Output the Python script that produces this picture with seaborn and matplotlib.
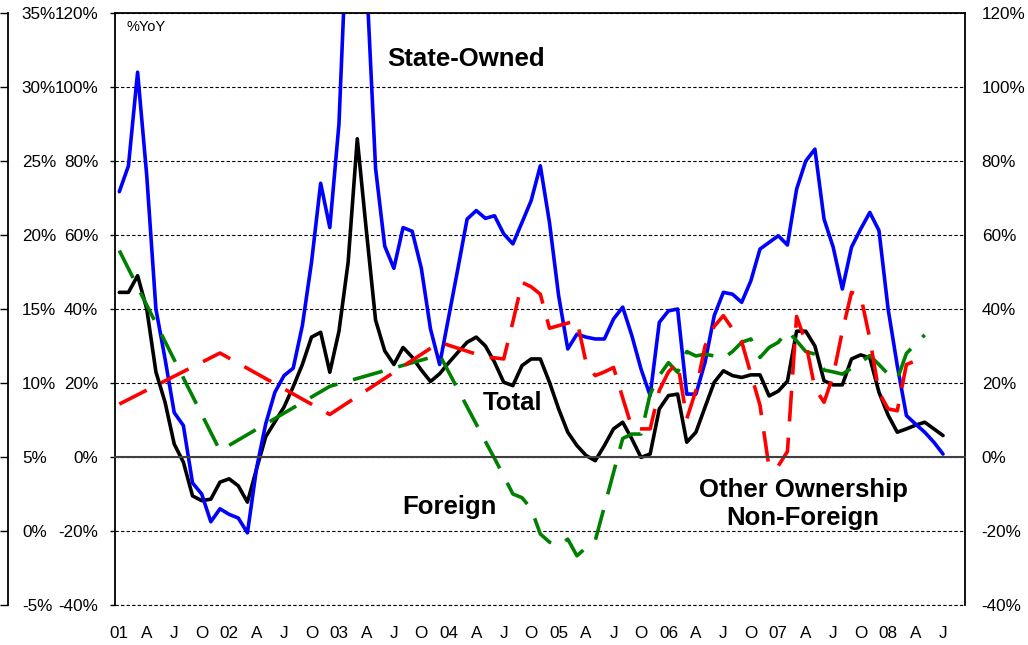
import numpy as np
import pandas as pd
import seaborn as sns
import matplotlib.pyplot as plt
from matplotlib.ticker import FuncFormatter

sns.set_style("white")
plt.rcParams["font.family"] = ["Liberation Sans", "DejaVu Sans"]
plt.rcParams["text.color"] = "black"
plt.rcParams["xtick.color"] = "black"
plt.rcParams["ytick.color"] = "black"

# monthly, Jan 2001 .. Jul 2008, % YoY (None = no observation, line is joined)
state_owned = [71.7, 78.7, 104, 76, 40, 26.5, 12, 8.5, -7, -10,
               -17.5, -14, -15.5, -16.5, -20.5, -3, 9, 17.5, 22, 24,
               35.5, 52.6, 74, 62, 90, 150, 150, 130, 78, 57,
               51, 62, 61, 51, 34.6, 25, 38, 51, 64.3, 66.6,
               64.5, 65.2, 60.3, 57.6, 63.4, 69.3, 78.7, 63.4, 43.6, 29.2,
               33.2, 32.4, 31.9, 31.9, 37.3, 40.5, 32.8, 23.8, 16.6, 36.4,
               39.5, 40, 17, 17, 25.6, 38.2, 44.5, 44, 41.8, 47.6,
               56.2, 58, 59.8, 57.3, 72.4, 80, 83.2, 64.3, 56.7, 45.4,
               56.7, 61.6, 66.1, 61.2, 40, 24.7, 11.2, 8.9, 6.7, 4,
               0.8]
total = [44.5, 44.5, 49, 40, 23, 14.8, 3.5, -1.4, -10.5, -11.8,
         -11.4, -6.8, -5.9, -7.8, -12.2, -3.2, 5.5, 9.5, 13.5, 19,
         25, 32.4, 33.7, 22.9, 34, 52.6, 86, 61, 37, 28.7,
         25, 29.6, 27, 23.5, 20.4, 22.5, 25.5, 28.3, 31, 32.4,
         30, 25.6, 20.2, 19.3, 24.7, 26.5, 26.5, 20.2, 13, 6.7,
         3.1, 0.4, -1, 3.1, 7.6, 9.4, 4.9, -0.1, 0.8, 13,
         16.6, 17, 4, 6.7, 13.5, 20.2, 23.3, 22, 21.5, 22.2,
         22.2, 16.5, 17.8, 20.5, 34, 34, 30, 20.6, 19.5, 19.5,
         26.5, 27.6, 26.8, 17.5, 11.3, 6.7, 7.6, 8.6, 9.4, 7.6,
         5.8]
foreign = [55.8, None, None, None, None, None, None, None, None, None,
           None, 1.7, None, None, None, None, None, None, None, None,
           None, None, None, 19.1, None, None, None, None, None, None,
           None, None, None, None, None, 27.6, None, None, None, None,
           4.2, -0.4, -5.1, -10, -11, -14, -20.8, -23, -24, -22.2,
           -26.7, -24.5, -22.6, -13.4, -4.2, 5, 6.2, 6.2, 17, 22,
           25.5, 22.9, 28.5, 27.3, 27.8, 27.3, 26.7, 28.5, 31, 31.9,
           26.9, 29.6, 31, 34.1, 31.4, 28.5, 27.8, 23.5, 23, 22.4,
           24, 25.6, 27.4, 25, 22.4, 21, 28, 30.5, 33, None,
           None]
other_non_foreign = [14.3, None, None, None, None, None, None, None, None, None,
                     None, 28.1, None, None, None, None, None, None, None, None,
                     None, None, None, 11.5, None, None, None, None, None, None,
                     None, None, None, None, None, 31, None, None, None, None,
                     27, 26.8, 26.5, 36.5, 47.2, 46, 44, 34.8, 35.5, 36.2,
                     36.9, 25.5, 22, 23, 24.2, 16, 8, 7.6, 7.6, 18,
                     23, 25.5, 10.3, 18, 30, 35.3, 38.2, 34.6, 31.2, 22.5,
                     14, -3, -2.4, 1.5, 38, 31, 18.5, 14.8, 22, 34,
                     44.5, 43.6, 32, 17.5, 13, 12.5, 25, 26, None, None,
                     None]

year_labels = ["01", "02", "03", "04", "05", "06", "07", "08"]
quarter_labels = ["A", "J", "O"]
left_ticks = [-40, -20, 0, 20, 40, 60, 80, 100, 120]
outer_ticks = [-5, 0, 5, 10, 15, 20, 25, 30, 35]

months = np.arange(len(total))
df = pd.DataFrame({
    "month": months,
    "state_owned": state_owned,
    "total": total,
    "foreign": foreign,
    "other": other_non_foreign,
}).astype(float)

month_ticks = list(range(0, len(months), 3))
month_tick_labels = []
for m in month_ticks:
    q = (m % 12) // 3
    month_tick_labels.append(year_labels[m // 12] if q == 0 else quarter_labels[q - 1])

fig = plt.figure(figsize=(10.28, 6.45), dpi=100)
ax = fig.add_axes([115 / 1028, 1 - 605 / 645, 850 / 1028, 592 / 645])

lw = 2.6
dash = (0, (8.5, 4.5))
sns.lineplot(data=df, x="month", y="total", color="black", lw=lw,
             estimator=None, errorbar=None, ax=ax)
sns.lineplot(data=df, x="month", y="state_owned", color="#0000FF", lw=lw,
             estimator=None, errorbar=None, ax=ax)
sns.lineplot(data=df, x="month", y="foreign", color="#008000", lw=lw,
             linestyle=dash, estimator=None, errorbar=None, ax=ax)
sns.lineplot(data=df, x="month", y="other", color="#FF0000", lw=lw,
             linestyle=dash, estimator=None, errorbar=None, ax=ax)

ax.set_xlim(-0.47, 92.4)
ax.set_ylim(-40, 120)
ax.set_xlabel(None)
ax.set_ylabel(None)

# y axis: same scale labelled on both sides
pct = FuncFormatter(lambda v, p: f"{v:.0f}%")
ax.set_yticks(left_ticks)
ax.yaxis.set_major_formatter(pct)
ax.tick_params(axis="y", left=True, right=False, labelleft=True, labelright=True,
               length=3.6, width=1, direction="out", pad=8.4, labelsize=12.3)
ax.grid(axis="y", color="black", lw=0.8, ls=(0, (3, 2)))
ax.grid(axis="x", visible=False)
# bottom gridline sits on the frame edge, keep it whole
ax.axhline(left_ticks[0], color="black", lw=0.8, ls=(0, (3, 2)), clip_on=False)

# x axis line at 0 with quarter ticks between categories
ax.spines["bottom"].set_position(("data", 0))
ax.spines["bottom"].set_color("#404040")
ax.spines["bottom"].set_linewidth(1.5)
ax.set_xticks(month_ticks)
ax.set_xticks([m + 2.5 for m in month_ticks[:-1]], minor=True)
ax.tick_params(axis="x", which="major", length=0, labelbottom=False)
ax.tick_params(axis="x", which="minor", length=3.6, width=1.2, color="#404040",
               direction="out")
for side in ["left", "right", "top"]:
    ax.spines[side].set_color("black")
    ax.spines[side].set_linewidth(1.3)

# month labels along the bottom edge
secx = ax.secondary_xaxis("bottom")
secx.set_xticks(month_ticks, labels=month_tick_labels)
secx.tick_params(length=0, pad=15, labelsize=12.3)
secx.spines["bottom"].set_visible(False)

# outer left scale
secy = ax.secondary_yaxis(-107 / 850, functions=(lambda v: 5 + v / 4, lambda o: (o - 5) * 4))
secy.set_yticks(outer_ticks)
secy.yaxis.set_major_formatter(pct)
secy.tick_params(axis="y", left=True, right=False, labelleft=False, labelright=True,
                 length=6, width=1, direction="out", pad=4, labelsize=12.3)
secy.spines["left"].set_linewidth(1.3)
secy.spines["left"].set_color("black")

ax.text(0.84, 116.2, "%YoY", fontsize=10.5, ha="left", va="center")
bold = dict(fontsize=18.5, fontweight="bold", ha="center", va="center")
ax.text(37.9, 107.6, "State-Owned", **bold)
ax.text(43.0, 14.6, "Total", **bold)
ax.text(36.1, -13.5, "Foreign", **bold)
ax.text(74.7, -12.7, "Other Ownership\nNon-Foreign", linespacing=1.25, **bold)

fig.savefig("out.png", dpi=100)
